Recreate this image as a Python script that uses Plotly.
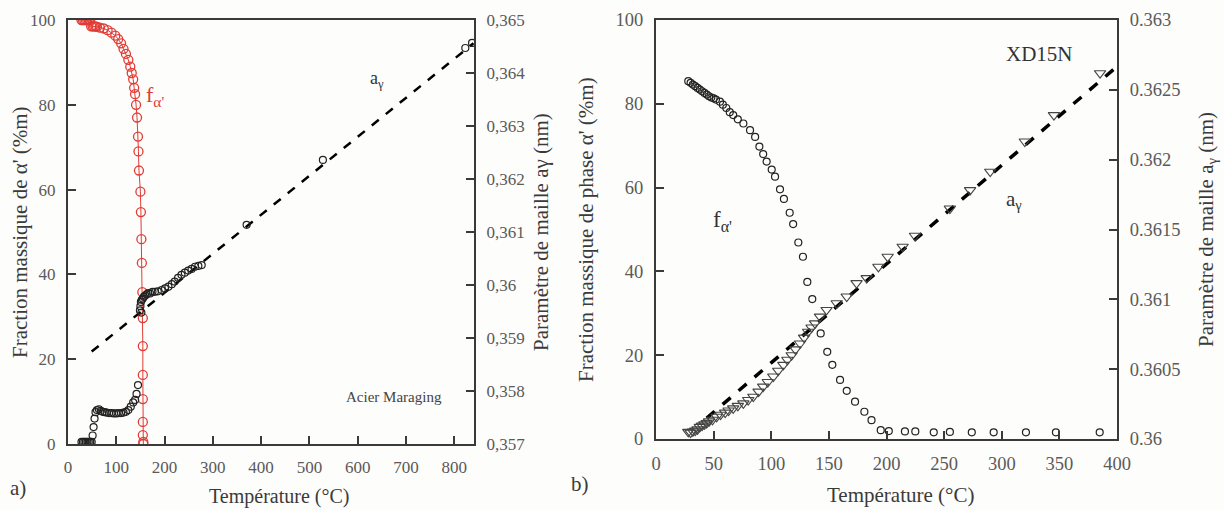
import plotly.graph_objects as go

# ---------------- Panel a) Acier Maraging ----------------
a_frac_T = [28, 31, 34, 37, 40, 43, 46, 48, 51, 54, 57, 60, 66, 74, 82, 90, 98, 104, 110, 115,
            120, 125, 129, 132, 135, 137, 139, 141, 143, 145, 146, 147, 150, 151, 152, 153, 154,
            155, 155, 155, 155, 155, 155, 156, 156]
a_frac_v = [100, 100, 100, 100, 100, 100, 100, 98.5, 98.5, 98.5, 98.5, 98.4, 98.2, 98.0, 97.6, 97.0,
            96.3, 95.5, 94.5, 93.2, 92.0, 90.6, 89.0, 87.5, 86.0, 84.0, 82.5, 80.0, 77.0, 72.5, 69.0,
            64.5, 59.5, 54.7, 48.3, 42.7, 35.8, 29.7, 23.1, 16.3, 10.6, 5.2, 2.1, 0.5, 0.0]

a_lat_T = [28, 31, 34, 37, 40, 43, 46, 49, 51, 53, 55, 57, 60, 64, 68, 72, 76, 80, 85, 90, 95, 100,
           105, 110, 115, 120, 125, 130, 135, 139, 142, 145, 149, 150, 151, 152, 153, 155, 157, 160,
           163, 166, 170, 175, 180, 186, 194, 201, 208, 215, 221, 228, 235, 242, 249, 256, 263,
           270, 277, 370, 528, 823, 837]
a_lat_v = [0.35704, 0.35704, 0.35704, 0.35704, 0.35704, 0.35704, 0.35704, 0.35704, 0.35716, 0.35732,
           0.35748, 0.3576, 0.35764, 0.357656, 0.357624, 0.357608, 0.3576, 0.357592, 0.357584,
           0.357584, 0.357576, 0.357576, 0.357584, 0.357584, 0.357592, 0.357608, 0.35764, 0.357704,
           0.357784, 0.357832, 0.357944, 0.358112, 0.35952, 0.3596, 0.35968, 0.35948, 0.35972,
           0.359744, 0.359776, 0.3598, 0.359824, 0.359848, 0.35984, 0.359872, 0.359872, 0.35988,
           0.359904, 0.359936, 0.359968, 0.360016, 0.360064, 0.360136, 0.360192, 0.360232,
           0.360272, 0.360304, 0.360344, 0.36036, 0.360376, 0.361136, 0.36236, 0.364472, 0.364568]

a_fit_T = [49, 840]
a_fit_v = [0.358744, 0.36456]

a_left_ticks = [0, 20, 40, 60, 80, 100]
a_right_ticks = [0.357, 0.358, 0.359, 0.36, 0.361, 0.362, 0.363, 0.364, 0.365]
a_right_labels = ["0,357", "0,358", "0,359", "0,36", "0,361", "0,362", "0,363", "0,364", "0,365"]
a_x_ticks = [0, 100, 200, 300, 400, 500, 600, 700, 800]

# ---------------- Panel b) XD15N ----------------
b_frac_T = [28, 30, 32, 34, 36, 38, 40, 42, 44, 46, 48, 50, 52, 55.5, 58, 61, 64, 67, 71, 75.8,
            81.6, 86, 89.7, 93, 96, 100.4, 103.3, 107.6, 111, 116, 119, 123.5, 127.5, 131.3, 135.6,
            142.9, 148.6, 153, 159.7, 165.5, 172.7, 180.8, 187, 195, 202, 216, 225, 241, 255, 274,
            293, 321, 347, 385]
b_frac_v = [85.4, 85.0, 84.6, 84.2, 83.8, 83.4, 83.0, 82.6, 82.2, 81.8, 81.5, 81.3, 81.0, 80.5, 79.8,
            79.0, 78.0, 77.3, 76.3, 75.3, 73.7, 72.1, 69.8, 68.0, 66.2, 64.3, 62.6, 59.6, 57.3, 54.0,
            51.3, 46.9, 43.5, 37.5, 33.4, 25.2, 20.8, 17.7, 14.1, 11.5, 8.9, 6.5, 4.5, 2.1, 1.9, 1.8,
            1.8, 1.6, 1.7, 1.6, 1.6, 1.6, 1.6, 1.6]

b_lat_T = [28, 30, 32, 34, 36, 38, 40, 42, 44, 46, 49, 52.6, 56, 60, 63, 67, 71, 75.8, 80, 84.4, 89,
           93, 97, 101.8, 106, 110.5, 114, 117.7, 121, 125, 128.5, 132, 135, 138, 142.3, 148, 156.8,
           165.5, 174, 182.8, 193, 201, 214, 224.7, 255, 272.5, 290, 320, 345.3, 385.3]
b_lat_v = [0.360051, 0.360045, 0.360054, 0.36006, 0.360069, 0.360087, 0.360096, 0.360105, 0.360114,
           0.360126, 0.360138, 0.360159, 0.360174, 0.360189, 0.360204, 0.360219, 0.360237, 0.360255,
           0.360279, 0.360303, 0.360339, 0.360375, 0.360408, 0.360447, 0.360489, 0.360531, 0.360567,
           0.3606, 0.360642, 0.360684, 0.360726, 0.360768, 0.360798, 0.360828, 0.360876, 0.360924,
           0.360972, 0.36102, 0.361116, 0.361152, 0.361233, 0.361305, 0.361377, 0.361455, 0.36165,
           0.361782, 0.361914, 0.36213, 0.362319, 0.362619]

b_fit_T = [44, 400]
b_fit_v = [0.36015, 0.362667]

b_left_ticks = [0, 20, 40, 60, 80, 100]
b_right_ticks = [0.36, 0.3605, 0.361, 0.3615, 0.362, 0.3625, 0.363]
b_right_labels = ["0.36", "0.3605", "0.361", "0.3615", "0.362", "0.3625", "0.363"]
b_x_ticks = [0, 50, 100, 150, 200, 250, 300, 350, 400]

# ---------------- styling ----------------
W, H = 1224, 510
FONT = "Liberation Serif, Times New Roman, DejaVu Serif, serif"
RED = "#e23b35"
AX = "#3a3a3a"
TICKC = "#5a5a5a"
TITLEC = "#3a3a3a"


def px(x):
    return x / W


def py(y):
    return 1 - y / H


fig = go.Figure()

# panel a
fig.add_trace(go.Scatter(x=a_fit_T, y=a_fit_v, mode="lines", xaxis="x", yaxis="y2",
                         line=dict(color="black", width=2.5, dash="dash"), showlegend=False))
fig.add_trace(go.Scatter(x=a_lat_T, y=a_lat_v, mode="markers", xaxis="x", yaxis="y2",
                         marker=dict(symbol="circle-open", size=7, color="#222",
                                     line=dict(width=1.2)), showlegend=False))
fig.add_trace(go.Scatter(x=a_frac_T, y=a_frac_v, mode="lines+markers", xaxis="x", yaxis="y",
                         line=dict(color=RED, width=1),
                         marker=dict(symbol="circle-open", size=9, color=RED, line=dict(width=1.3)),
                         showlegend=False))

# panel b
fig.add_trace(go.Scatter(x=b_fit_T, y=b_fit_v, mode="lines", xaxis="x2", yaxis="y4",
                         line=dict(color="black", width=3.5, dash="dash"), showlegend=False))
fig.add_trace(go.Scatter(x=b_lat_T, y=b_lat_v, mode="markers", xaxis="x2", yaxis="y4",
                         marker=dict(symbol="triangle-down-open", size=10, color="#444",
                                     line=dict(width=1.1)), showlegend=False))
fig.add_trace(go.Scatter(x=b_frac_T, y=b_frac_v, mode="markers", xaxis="x2", yaxis="y3",
                         marker=dict(symbol="circle-open", size=7, color="#222",
                                     line=dict(width=1.2)), showlegend=False))

axcommon = dict(showline=True, linecolor=AX, linewidth=2, ticks="inside", ticklen=8,
                tickwidth=2, tickcolor=AX, showgrid=False, zeroline=False,
                ticklabelstandoff=7, automargin=False)

fa = dict(family=FONT, size=17, color=TICKC)
fb = dict(family=FONT, size=18.5, color=TICKC)

fig.update_layout(
    template="none",
    width=W, height=H,
    autosize=False,
    margin=dict(l=0, r=0, t=0, b=0, pad=0),
    paper_bgcolor="#fdfdfb", plot_bgcolor="#fdfdfb",
    font=dict(family=FONT),
    xaxis=dict(domain=[px(68), px(474)], range=[0, 841], tickvals=a_x_ticks, tickfont=fa,
               anchor="y", mirror=True, **axcommon),
    yaxis=dict(domain=[py(444), py(20)], range=[0, 100], tickvals=a_left_ticks, tickfont=fa,
               anchor="x", **axcommon),
    yaxis2=dict(domain=[py(444), py(20)], range=[0.357, 0.365], tickvals=a_right_ticks,
                ticktext=a_right_labels, tickfont=fa, overlaying="y", side="right",
                anchor="x", **axcommon),
    xaxis2=dict(domain=[px(656), px(1117)], range=[0, 400], tickvals=b_x_ticks, tickfont=fb,
                anchor="y3", mirror=True, **axcommon),
    yaxis3=dict(domain=[py(439), py(20)], range=[0, 100], tickvals=b_left_ticks, tickfont=fb,
                anchor="x2", **axcommon),
    yaxis4=dict(domain=[py(439), py(20)], range=[0.36, 0.363], tickvals=b_right_ticks,
                ticktext=b_right_labels, tickfont=fb, overlaying="y3", side="right",
                anchor="x2", **axcommon),
)

TF = dict(family=FONT, size=21, color=TITLEC)
ann = [
    # axis titles
    dict(x=px(20), y=py(232), text="Fraction massique de α' (%m)", textangle=-90),
    dict(x=px(541), y=py(232), text="Paramètre de maille aγ (nm)", textangle=-90),
    dict(x=px(279), y=py(496), text="Température (°C)", font=dict(family=FONT, size=20, color=TITLEC)),
    dict(x=px(586), y=py(230), text="Fraction massique de phase α' (%m)", textangle=-90),
    dict(x=px(1207), y=py(230), text="Paramètre de maille a<sub>γ</sub> (nm)", textangle=-90),
    dict(x=px(900), y=py(495), text="Température (°C)"),
    dict(x=px(18), y=py(488), text="a)"),
    dict(x=px(580), y=py(484), text="b)"),
]
annotations = []
for a in ann:
    d = dict(xref="paper", yref="paper", showarrow=False, font=TF, xanchor="center",
             yanchor="middle")
    d.update(a)
    annotations.append(d)

# in-plot labels (data coordinates)
annotations += [
    dict(x=180, y=82, xref="x", yref="y", text="f<sub>α'</sub>", showarrow=False,
         font=dict(family=FONT, size=22, color=RED)),
    dict(x=640, y=86, xref="x", yref="y", text="a<sub>γ</sub>", showarrow=False,
         font=dict(family=FONT, size=18, color="#333")),
    dict(x=675, y=11, xref="x", yref="y", text="Acier Maraging", showarrow=False,
         font=dict(family=FONT, size=15, color="#444")),
    dict(x=333, y=92, xref="x2", yref="y3", text="XD15N", showarrow=False,
         font=dict(family=FONT, size=21, color="#333")),
    dict(x=311, y=57, xref="x2", yref="y3", text="a<sub>γ</sub>", showarrow=False,
         font=dict(family=FONT, size=21, color="#333")),
    dict(x=58, y=52, xref="x2", yref="y3", text="f<sub>α'</sub>", showarrow=False,
         font=dict(family=FONT, size=23, color="#333")),
]
fig.update_layout(annotations=annotations)

fig.write_html(
    "out.html",
    config={"displayModeBar": False},
    post_script="document.body.style.margin='0px';document.body.style.padding='0px';"
                "document.body.style.overflow='hidden';",
)
